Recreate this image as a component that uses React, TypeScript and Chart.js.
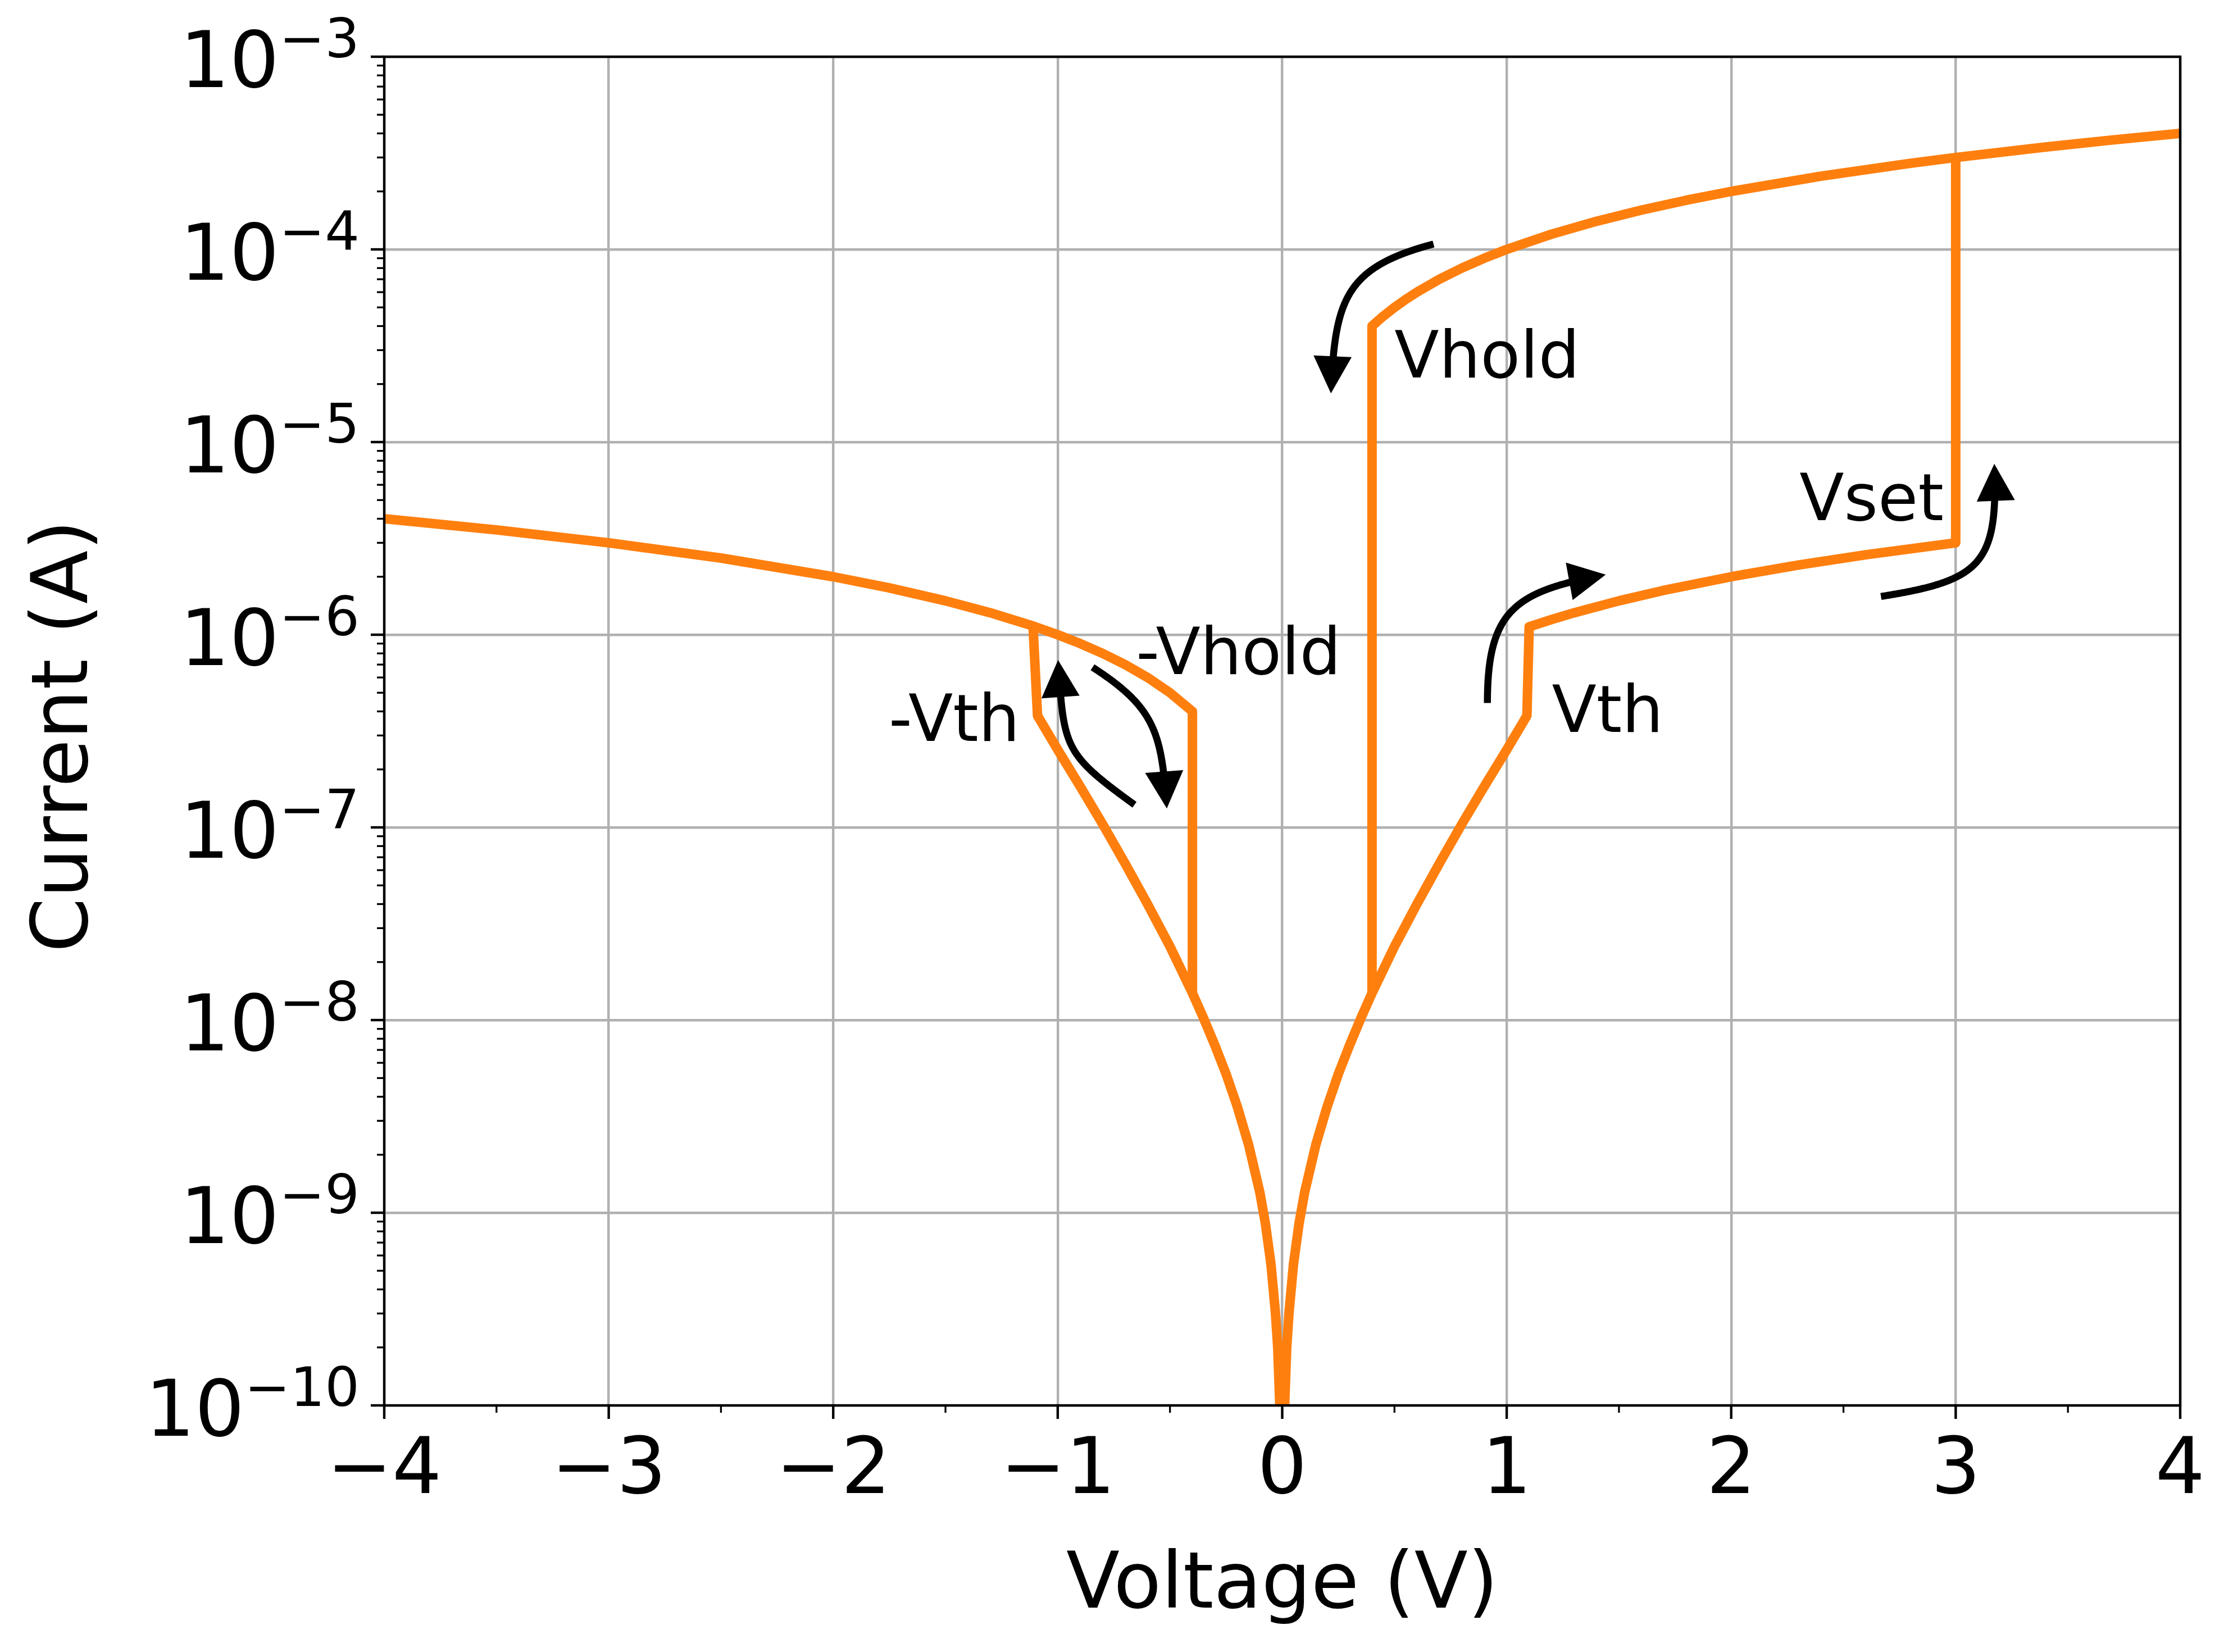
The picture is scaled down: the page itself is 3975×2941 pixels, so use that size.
import React, { useEffect, useRef } from 'react';
import { Chart, registerables } from 'chart.js';

Chart.register(...registerables);

// ---------- axis ticks ----------
const xTicks = [-4, -3, -2, -1, 0, 1, 2, 3, 4];
const xMinorTicks = [-3.5, -2.5, -1.5, -0.5, 0.5, 1.5, 2.5, 3.5];
const yDecades = [-10, -9, -8, -7, -6, -5, -4, -3];

// ---------- curve data ----------
// low-current branch, positive side (0 -> Vth)
const posLowV = [0.005, 0.01, 0.02, 0.03, 0.05, 0.075, 0.1, 0.15, 0.2, 0.25, 0.3, 0.35, 0.4, 0.5, 0.6, 0.7, 0.8, 0.9, 1.0, 1.09];
const posLowI = [4.6e-11, 9.5e-11, 2.0e-10, 3.0e-10, 5.4e-10, 8.8e-10, 1.28e-9, 2.26e-9, 3.55e-9, 5.25e-9, 7.4e-9, 1.02e-8, 1.38e-8, 2.41e-8, 4.0e-8, 6.5e-8, 1.04e-7, 1.63e-7, 2.53e-7, 3.8e-7];
// low-current branch, negative side (0 -> -Vth)
const negLowV = [-0.005, -0.01, -0.02, -0.03, -0.05, -0.075, -0.1, -0.15, -0.2, -0.25, -0.3, -0.35, -0.4, -0.5, -0.6, -0.7, -0.8, -0.9, -1.0, -1.09];
const negLowI = [4.6e-11, 9.5e-11, 2.0e-10, 3.0e-10, 5.4e-10, 8.8e-10, 1.28e-9, 2.26e-9, 3.55e-9, 5.25e-9, 7.4e-9, 1.02e-8, 1.38e-8, 2.41e-8, 4.0e-8, 6.5e-8, 1.04e-7, 1.63e-7, 2.53e-7, 3.8e-7];
// threshold-switched branch (Vth -> Vset)
const midV = [1.1, 1.2, 1.3, 1.5, 1.7, 2.0, 2.3, 2.6, 3.0];
const midI = [1.1e-6, 1.2e-6, 1.3e-6, 1.5e-6, 1.7e-6, 2.0e-6, 2.3e-6, 2.6e-6, 3.0e-6];
// ON-state branch (Vhold -> 4 V)
const onV = [0.4, 0.45, 0.5, 0.55, 0.6, 0.7, 0.8, 0.9, 1.0, 1.2, 1.4, 1.6, 1.8, 2.0, 2.4, 2.8, 3.0, 3.4, 3.7, 4.0];
const onI = [4.0e-5, 4.5e-5, 5.0e-5, 5.5e-5, 6.0e-5, 7.0e-5, 8.0e-5, 9.0e-5, 1.0e-4, 1.2e-4, 1.4e-4, 1.6e-4, 1.8e-4, 2.0e-4, 2.4e-4, 2.8e-4, 3.0e-4, 3.4e-4, 3.7e-4, 4.0e-4];
// negative switched branch (-Vhold -> -4 V)
const negHighV = [-0.4, -0.5, -0.6, -0.7, -0.8, -0.9, -1.0, -1.11, -1.3, -1.5, -1.75, -2.0, -2.5, -3.0, -3.5, -4.0];
const negHighI = [4.0e-7, 5.0e-7, 6.0e-7, 7.0e-7, 8.0e-7, 9.0e-7, 1.0e-6, 1.11e-6, 1.3e-6, 1.5e-6, 1.75e-6, 2.0e-6, 2.5e-6, 3.0e-6, 3.5e-6, 4.0e-6];

// ---------- annotations ----------
const labelTexts = ['Vhold', 'Vset', 'Vth', '-Vth', '-Vhold'];
const labelV = [0.5, 2.304, 1.201, -1.753, -0.651];
const labelI = [2.17e-5, 3.94e-6, 3.14e-7, 2.81e-7, 6.23e-7];

// arrows: tail, control 1, control 2, tip
const arrowV = [
  [0.674, 0.275, 0.2355, 0.217],
  [2.667, 3.112, 3.19, 3.172],
  [0.914, 0.914, 1.0345, 1.441],
  [-0.658, -0.976, -0.972, -0.9985],
  [-0.845, -0.563, -0.538, -0.514],
];
const arrowI = [
  [1.066e-4, 8.04e-5, 5.42e-5, 1.79e-5],
  [1.58e-6, 1.91e-6, 2.31e-6, 7.71e-6],
  [4.42e-7, 1.338e-6, 1.68e-6, 2.05e-6],
  [1.311e-7, 2.435e-7, 2.58e-7, 7.39e-7],
  [6.78e-7, 4.16e-7, 3.08e-7, 1.254e-7],
];

type P = { x: number; y: number };
const toPts = (vs: number[], is: number[]): P[] => vs.map((v, i) => ({ x: v, y: is[i] }));

function buildPath(): P[] {
  const negHigh = toPts(negHighV, negHighI);
  const negLow = toPts(negLowV, negLowI);
  const posLow = toPts(posLowV, posLowI);
  const mid = toPts(midV, midI);
  const on = toPts(onV, onI);
  const holdIdx = posLowV.indexOf(0.4);
  return [
    ...negHigh.slice().reverse(),
    ...negLow.slice(0, holdIdx + 1).reverse(),
    ...posLow,
    ...mid,
    ...on.filter((p) => p.x >= 3),
    ...on.slice().reverse(),
    ...posLow.slice(0, holdIdx + 1).reverse(),
    ...negLow,
    ...negHigh.filter((p) => p.x <= -1.11),
  ];
}

const FONT = '"DejaVu Sans", sans-serif';

const decorPlugin = {
  id: 'decor',
  afterDraw(chart: any) {
    const { ctx, chartArea: a, scales } = chart;
    const xs = scales.x;
    const ys = scales.y;
    ctx.save();

    const line = (x1: number, y1: number, x2: number, y2: number, w: number) => {
      ctx.lineWidth = w;
      ctx.beginPath();
      ctx.moveTo(x1, y1);
      ctx.lineTo(x2, y2);
      ctx.stroke();
    };

    // frame
    ctx.strokeStyle = '#000';
    ctx.lineCap = 'butt';
    ctx.lineJoin = 'miter';
    ctx.lineWidth = 4.4;
    ctx.strokeRect(a.left, a.top, a.right - a.left, a.bottom - a.top);

    // ticks
    xTicks.forEach((v) => {
      const px = xs.getPixelForValue(v);
      line(px, a.bottom, px, a.bottom + 24, 4.4);
    });
    xMinorTicks.forEach((v) => {
      const px = xs.getPixelForValue(v);
      line(px, a.bottom, px, a.bottom + 13, 3.3);
    });
    yDecades.forEach((e) => {
      const py = ys.getPixelForValue(Math.pow(10, e));
      line(a.left, py, a.left - 24, py, 4.4);
    });
    yDecades.slice(0, -1).forEach((e) => {
      for (let k = 2; k <= 9; k++) {
        const py = ys.getPixelForValue(k * Math.pow(10, e));
        line(a.left, py, a.left - 13, py, 3.3);
      }
    });

    // tick labels
    ctx.fillStyle = '#000';
    ctx.textBaseline = 'alphabetic';
    ctx.font = `139px ${FONT}`;
    ctx.textAlign = 'center';
    xTicks.forEach((v) => {
      const txt = v < 0 ? '\u2212' + Math.abs(v) : String(v);
      ctx.fillText(txt, xs.getPixelForValue(v), a.bottom + 156);
    });
    ctx.textAlign = 'left';
    yDecades.forEach((e) => {
      const py = ys.getPixelForValue(Math.pow(10, e));
      const base = '10';
      const sup = '\u2212' + Math.abs(e);
      ctx.font = `97px ${FONT}`;
      const w2 = ctx.measureText(sup).width;
      ctx.font = `139px ${FONT}`;
      const w1 = ctx.measureText(base).width;
      const R = a.left - 44;
      ctx.fillText(base, R - w2 - w1, py + 54);
      ctx.font = `97px ${FONT}`;
      ctx.fillText(sup, R - w2, py + 1);
    });

    // axis titles
    ctx.font = `139px ${FONT}`;
    ctx.textAlign = 'center';
    ctx.fillText('Voltage (V)', (a.left + a.right) / 2, a.bottom + 360);
    ctx.save();
    ctx.translate(a.left - 529, (a.top + a.bottom) / 2 + 9);
    ctx.rotate(-Math.PI / 2);
    ctx.fillText('Current (A)', 0, 0);
    ctx.restore();

    // annotation labels
    ctx.font = `116px ${FONT}`;
    ctx.textAlign = 'left';
    labelTexts.forEach((t, i) => {
      ctx.fillText(t, xs.getPixelForValue(labelV[i]), ys.getPixelForValue(labelI[i]));
    });

    // arrows
    ctx.strokeStyle = '#000';
    ctx.fillStyle = '#000';
    arrowV.forEach((vs, i) => {
      const p = vs.map((v, j) => ({ x: xs.getPixelForValue(v), y: ys.getPixelForValue(arrowI[i][j]) }));
      const [p0, c1, c2, p3] = p;
      const bez = (t: number) => {
        const u = 1 - t;
        return {
          x: u * u * u * p0.x + 3 * u * u * t * c1.x + 3 * u * t * t * c2.x + t * t * t * p3.x,
          y: u * u * u * p0.y + 3 * u * u * t * c1.y + 3 * u * t * t * c2.y + t * t * t * p3.y,
        };
      };
      let dx = p3.x - c2.x;
      let dy = p3.y - c2.y;
      const L = Math.hypot(dx, dy) || 1;
      dx /= L;
      dy /= L;
      const headLen = 66;
      const halfW = 34;
      ctx.lineWidth = 12.5;
      ctx.lineCap = 'butt';
      ctx.lineJoin = 'round';
      ctx.beginPath();
      ctx.moveTo(p0.x, p0.y);
      for (let k = 1; k <= 400; k++) {
        const q = bez(k / 400);
        if (Math.hypot(q.x - p3.x, q.y - p3.y) < headLen * 0.85) break;
        ctx.lineTo(q.x, q.y);
      }
      ctx.stroke();
      const bx = p3.x - dx * headLen;
      const by = p3.y - dy * headLen;
      ctx.beginPath();
      ctx.moveTo(p3.x, p3.y);
      ctx.lineTo(bx + dy * halfW, by - dx * halfW);
      ctx.lineTo(bx - dy * halfW, by + dx * halfW);
      ctx.closePath();
      ctx.fill();
    });

    ctx.restore();
  },
};

export default function App() {
  const ref = useRef<HTMLCanvasElement>(null);
  useEffect(() => {
    if (!ref.current) return;
    const chart = new Chart(ref.current, {
      type: 'scatter',
      data: {
        datasets: [
          {
            data: buildPath(),
            showLine: true,
            borderColor: '#ff7f0e',
            backgroundColor: '#ff7f0e',
            borderWidth: 17,
            borderJoinStyle: 'round',
            borderCapStyle: 'butt',
            pointRadius: 0,
            pointHoverRadius: 0,
            tension: 0,
          } as any,
        ],
      },
      options: {
        animation: false,
        responsive: false,
        devicePixelRatio: 1,
        events: [],
        layout: { padding: { top: 101, right: 94, left: 0, bottom: 0 } },
        plugins: {
          legend: { display: false },
          tooltip: { enabled: false },
          title: { display: false },
        },
        scales: {
          x: {
            type: 'linear',
            min: -4,
            max: 4,
            afterBuildTicks: (s: any) => {
              s.ticks = xTicks.map((v) => ({ value: v }));
            },
            afterFit: (s: any) => {
              s.height = 439;
            },
            ticks: { display: false },
            grid: { color: '#b0b0b0', lineWidth: 4.4, drawTicks: false },
            border: { display: false },
          },
          y: {
            type: 'logarithmic',
            min: 1e-10,
            max: 1e-3,
            afterBuildTicks: (s: any) => {
              s.ticks = yDecades.map((e) => ({ value: Math.pow(10, e) }));
            },
            afterFit: (s: any) => {
              s.width = 684;
            },
            ticks: { display: false },
            grid: { color: '#b0b0b0', lineWidth: 4.4, drawTicks: false },
            border: { display: false },
          },
        },
      } as any,
      plugins: [decorPlugin],
    });
    return () => chart.destroy();
  }, []);
  return (
    <canvas
      ref={ref}
      width={3975}
      height={2941}
      style={{ position: 'fixed', left: 0, top: 0, width: '3975px', height: '2941px', display: 'block', background: '#fff' }}
    />
  );
}
